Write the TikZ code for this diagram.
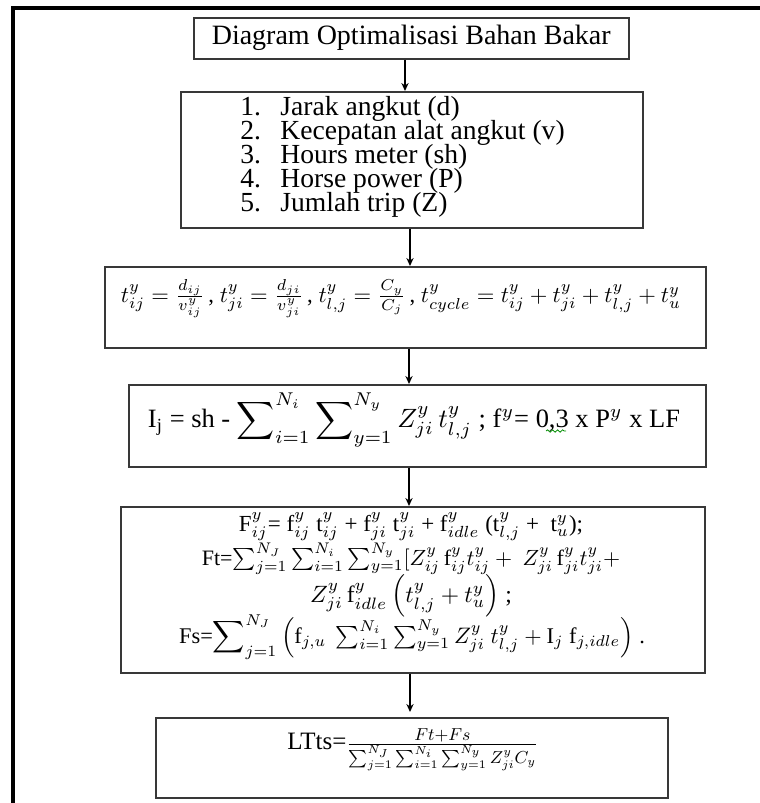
\documentclass[tikz,border=0pt]{standalone}
\usepackage{amsmath}
\usepackage{graphicx}
\usepackage{fontspec}
\setmainfont{Liberation Serif}
\usetikzlibrary{arrows.meta,decorations.pathmorphing}
\newcommand{\listfont}{\fontsize{13.8}{12}\selectfont\lineskiplimit-20pt\relax}
\begin{document}
\begin{tikzpicture}[x=0.5pt,y=-0.5pt,
  box/.style={draw=black!78, line width=0.75pt, inner sep=0pt, anchor=north west},
  arr/.style={-{Stealth[length=4pt,width=3.6pt]}, line width=0.65pt},
  txt/.style={inner sep=0pt},
  frameline/.style={line width=2pt, black}]
\useasboundingbox (0,0) rectangle (760,803);
% outer frame (top and left)
\coordinate (fc) at (13,803);
\coordinate (ftl) at (13,8);
\coordinate (ftr) at (760,8);
\draw[frameline] (fc) -- (ftl) -- (ftr);

% boxes
\node[box, minimum width=217.5pt, minimum height=20.5pt] (b1) at (193,17)
  {\fontsize{14}{16}\selectfont Diagram Optimalisasi Bahan Bakar};
\node[box, minimum width=231pt, minimum height=68pt] (b2) at (180,91) {};
\node[txt, anchor=west, align=left, font={\listfont}] (list) at (240,157)
  {\makebox[20pt][l]{1.}Jarak angkut (d)\\
   \makebox[20pt][l]{2.}Kecepatan alat angkut (v)\\
   \makebox[20pt][l]{3.}Hours meter (sh)\\
   \makebox[20pt][l]{4.}Horse power (P)\\
   \makebox[20pt][l]{5.}Jumlah trip (Z)};

\node[box, minimum width=300.5pt, minimum height=40.5pt] (b3) at (104,266) {};
\node[txt] (f3) at (401,299) {\resizebox{280pt}{!}{%
  $t^{y}_{ij}=\frac{d_{ij}}{v^{y}_{ij}}$\,,
  $t^{y}_{ji}=\frac{d_{ji}}{v^{y}_{ji}}$\,,
  $t^{y}_{l,j}=\frac{C_{y}}{C_{j}}$\,,
  $t^{y}_{cycle}=t^{y}_{ij}+t^{y}_{ji}+t^{y}_{l,j}+t^{y}_{u}$}};

\node[box, minimum width=288.5pt, minimum height=41pt] (b4) at (128,384) {};
\node[txt] (f4) at (414,420) {\resizebox{266pt}{!}{%
  I$_{\mathrm{j}}$ = sh - $\displaystyle\sum\nolimits_{i=1}^{N_{i}}\sum\nolimits_{y=1}^{N_{y}} Z^{y}_{ji}\,t^{y}_{l,j}$ ;
  f$^{y}$= 0,3 x P$^{y}$ x LF}};
\coordinate (sq1) at (546,431);
\coordinate (sq2) at (566,431);
\draw[green!55!black, line width=0.4pt, decorate,
  decoration={snake, amplitude=0.6pt, segment length=2.5pt}] (sq1) -- (sq2);

\node[box, minimum width=292pt, minimum height=83pt] (b5) at (120,506) {};
\node[txt, anchor=base] (l1) at (411,531) {\scalebox{1.15}{%
  F$^{y}_{ij}$= f$^{y}_{ij}$ t$^{y}_{ij}$ + f$^{y}_{ji}$ t$^{y}_{ji}$ + f$^{y}_{idle}$ (t$^{y}_{l,j}$ + \ t$^{y}_{u}$);}};
\node[txt, anchor=base] (l2) at (411,565) {\scalebox{1.1}{%
  Ft=$\sum_{j=1}^{N_{J}}\sum_{i=1}^{N_{i}}\sum_{y=1}^{N_{y}}[Z^{y}_{ij}\,\mathrm{f}^{y}_{ij}t^{y}_{ij}+\ Z^{y}_{ji}\,\mathrm{f}^{y}_{ji}t^{y}_{ji}+$}};
\node[txt, anchor=base] (l3) at (411,602) {\scalebox{1.18}{%
  $Z^{y}_{ji}\,\mathrm{f}^{y}_{idle}\left(t^{y}_{l,j}+t^{y}_{u}\right)$ ;}};
\node[txt, anchor=base] (l4) at (412,643) {\scalebox{1.12}{%
  Fs=$\displaystyle\sum\nolimits_{j=1}^{N_{J}}\left(\mathrm{f}_{j,u}\ \textstyle\sum_{i=1}^{N_{i}}\sum_{y=1}^{N_{y}}Z^{y}_{ji}\ t^{y}_{l,j}+\mathrm{I}_{j}\ \mathrm{f}_{j,idle}\right)$ .}};

\node[box, minimum width=256pt, minimum height=40pt] (b6) at (155,717) {};
\node[txt, anchor=base west] (f6) at (287,749) {\fontsize{12.5}{14}\selectfont LTts=\raisebox{-0.5pt}{\resizebox{96pt}{!}{%
  $\frac{Ft+Fs}{\sum_{j=1}^{N_{J}}\sum_{i=1}^{N_{i}}\sum_{y=1}^{N_{y}}Z^{y}_{ji}C_{y}}$}}};

% arrows
\coordinate (a1) at (405,0);
\coordinate (a2) at (410,0);
\coordinate (a3) at (409,0);
\coordinate (a4) at (409,0);
\coordinate (a5) at (410,0);
\draw[arr] (b1.south -| a1) -- (b2.north -| a1);
\draw[arr] (b2.south -| a2) -- (b3.north -| a2);
\draw[arr] (b3.south -| a3) -- (b4.north -| a3);
\draw[arr] (b4.south -| a4) -- (b5.north -| a4);
\draw[arr] (b5.south -| a5) -- ([yshift=2.5pt]b6.north -| a5);
\end{tikzpicture}
\end{document}
